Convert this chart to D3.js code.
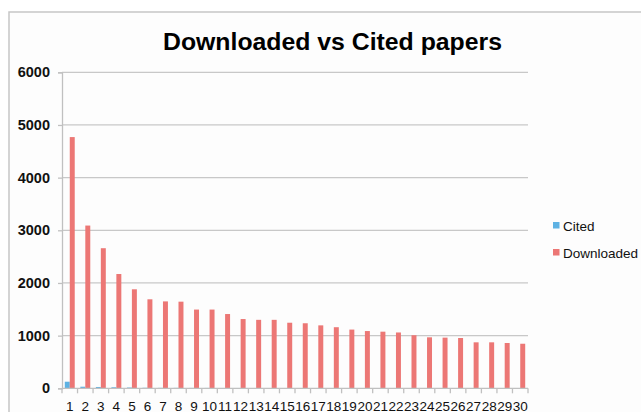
<!DOCTYPE html>
<html>
<head>
<meta charset="utf-8">
<script src="https://cdn.jsdelivr.net/npm/d3@7"></script>
<style>
  html, body { margin: 0; padding: 0; background: #ffffff; }
  svg { display: block; font-family: "Liberation Sans", Arial, Helvetica, sans-serif; }
</style>
</head>
<body>
<svg id="chart" width="641" height="412"></svg>
<script>
// Paper rank (1..30) and the counts for each series
const categories = d3.range(1, 31).map(String);
const seriesNames = ["Cited", "Downloaded"];
const cited = [125, 30, 25, 20, 15, 10, 8, 8, 7, 7, 6, 6, 5, 5, 5, 5, 4, 4, 4, 4, 4, 3, 3, 3, 3, 3, 3, 2, 2, 2];
const downloaded = [4770, 3090, 2660, 2170, 1880, 1690, 1650, 1645, 1495, 1495, 1410, 1315, 1300, 1300, 1245, 1235, 1195, 1160, 1115, 1087, 1075, 1060, 1008, 968, 962, 955, 873, 873, 860, 846];
const yTicks = [0, 1000, 2000, 3000, 4000, 5000, 6000];

const colors = { Cited: "#5eb2e3", Downloaded: "#ec7775" };
const seriesValues = { Cited: cited, Downloaded: downloaded };

const svg = d3.select("#chart");

// Outer chart frame
svg.append("rect")
  .attr("x", 9).attr("y", 12)
  .attr("width", 660).attr("height", 420)
  .attr("fill", "#fdfdfd")
  .attr("stroke", "#c6c6c6")
  .attr("stroke-width", 1.5);

const plot = { left: 62, right: 528, top: 72.3, bottom: 388.3 };

const x = d3.scaleBand().domain(categories).range([plot.left, plot.right]).padding(0);
const groupW = x.bandwidth() * 0.64;
const xs = d3.scaleBand().domain(seriesNames).range([0, groupW]).padding(0);
const y = d3.scaleLinear().domain([0, 6000]).range([plot.bottom, plot.top]);

// Horizontal gridlines
svg.append("g")
  .selectAll("line")
  .data(yTicks.filter(d => d > 0))
  .join("line")
  .attr("x1", plot.left).attr("x2", plot.right)
  .attr("y1", d => y(d)).attr("y2", d => y(d))
  .attr("stroke", "#c8c8c8")
  .attr("stroke-width", 1.3);

// Bars
const groups = svg.append("g")
  .selectAll("g")
  .data(categories)
  .join("g")
  .attr("transform", d => `translate(${x(d) + (x.bandwidth() - groupW) / 2},0)`);

groups.selectAll("rect")
  .data((d, i) => seriesNames.map(s => ({ s, v: seriesValues[s][i] })))
  .join("rect")
  .attr("x", d => xs(d.s))
  .attr("width", xs.bandwidth())
  .attr("y", d => y(d.v))
  .attr("height", d => y(0) - y(d.v))
  .attr("fill", d => colors[d.s]);

// Y axis
const yAxis = svg.append("g")
  .attr("transform", `translate(${plot.left},0)`)
  .call(d3.axisLeft(y).tickValues(yTicks).tickFormat(d3.format("d")).tickSize(4).tickPadding(8));
yAxis.select(".domain").attr("stroke", "#c0c0c0").attr("stroke-width", 1.3);
yAxis.selectAll(".tick line").attr("stroke", "#c0c0c0").attr("stroke-width", 1.3);
yAxis.selectAll(".tick text")
  .attr("font-family", "Liberation Sans, Arial, sans-serif")
  .attr("font-size", 14.5)
  .attr("font-weight", "bold")
  .attr("fill", "#111");

// X axis: ticks sit on the band boundaries
svg.append("line")
  .attr("x1", plot.left).attr("x2", plot.right)
  .attr("y1", y(0)).attr("y2", y(0))
  .attr("stroke", "#c0c0c0").attr("stroke-width", 1.3);
svg.append("g")
  .selectAll("line")
  .data(categories.concat(["end"]))
  .join("line")
  .attr("x1", (d, i) => plot.left + i * x.step())
  .attr("x2", (d, i) => plot.left + i * x.step())
  .attr("y1", y(0)).attr("y2", y(0) + 5)
  .attr("stroke", "#c0c0c0").attr("stroke-width", 1.3);
svg.append("g")
  .selectAll("text")
  .data(categories)
  .join("text")
  .attr("x", d => x(d) + x.bandwidth() / 2)
  .attr("y", 410.5)
  .attr("text-anchor", "middle")
  .attr("font-size", 13.5)
  .attr("fill", "#111")
  .text(d => d);

// Title
svg.append("text")
  .attr("x", 332.5).attr("y", 49.5)
  .attr("text-anchor", "middle")
  .attr("font-size", 24.8)
  .attr("font-weight", "bold")
  .attr("fill", "#000")
  .text("Downloaded vs Cited papers");

// Legend
const legend = svg.append("g").attr("transform", "translate(553,222)");
const li = legend.selectAll("g")
  .data(seriesNames)
  .join("g")
  .attr("transform", (d, i) => `translate(0,${i * 27})`);
li.append("rect").attr("width", 6.5).attr("height", 6.5).attr("fill", d => colors[d]);
li.append("text")
  .attr("x", 10).attr("y", 9)
  .attr("font-size", 13.5)
  .attr("fill", "#111")
  .text(d => d);
</script>
</body>
</html>
